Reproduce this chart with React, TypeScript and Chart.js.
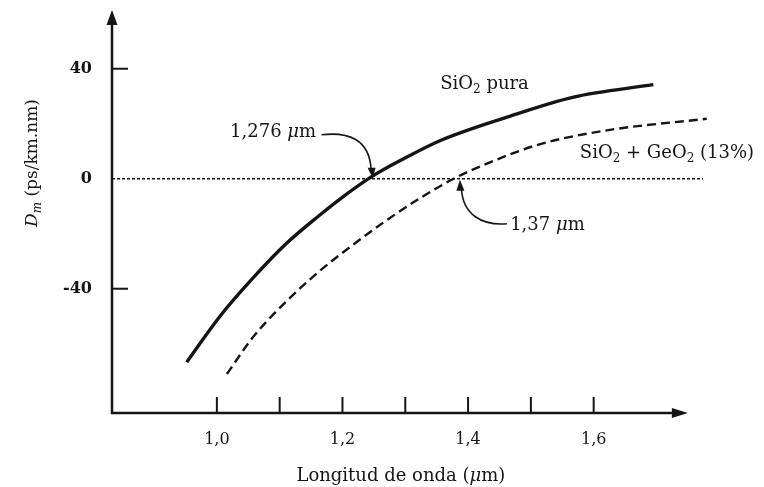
import React, { useEffect, useRef } from 'react';
import { Chart, registerables } from 'chart.js';

Chart.register(...registerables);

// ---- data ----
const sioPuraX = [0.952, 1.005, 1.058, 1.111, 1.164, 1.196, 1.244, 1.297, 1.356, 1.462, 1.568, 1.695];
const sioPuraY = [-66.7, -50.0, -36.0, -23.5, -13.2, -7.4, 0.4, 7.2, 13.9, 22.4, 29.7, 34.2];
const sioGeoX = [1.016, 1.058, 1.111, 1.164, 1.218, 1.271, 1.324, 1.377, 1.43, 1.515, 1.621, 1.78];
const sioGeoY = [-71.0, -57.5, -44.5, -33.5, -23.8, -15.0, -7.0, 0, 5.5, 12.6, 17.6, 21.8];
const zeroLineX = [0.833, 1.774];
const zeroLineY = [0, 0];
const xTickLabels = [1.0, 1.2, 1.4, 1.6];
const xTickMarks = [1.0, 1.1, 1.2, 1.3, 1.4, 1.5, 1.6];
const yTickLabels = [-40, 0, 40];
const yTickMarks = [-40, 40];
const zeroPuraCross = 1.248;
const zeroGeoCross = 1.387;

// ---- layout / style ----
const X_MIN = 0.833;
const X_MAX = 1.79;
const X_AXIS_END = 1.75;
const Y_MIN = -85.2;
const Y_MAX = 61;
const INK = '#151515';
const FONT = 'DejaVu Serif';

type Seg = { t: string; size: number; italic?: boolean; bold?: boolean; dy?: number };

function drawRich(ctx: CanvasRenderingContext2D, x: number, y: number, segs: Seg[], align: 'left' | 'center' = 'left') {
  const fontOf = (s: Seg) => `${s.italic ? 'italic ' : ''}${s.bold ? 'bold ' : ''}${s.size}px "${FONT}"`;
  let total = 0;
  for (const s of segs) {
    ctx.font = fontOf(s);
    total += ctx.measureText(s.t).width;
  }
  let cx = align === 'center' ? x - total / 2 : x;
  ctx.textAlign = 'left';
  ctx.textBaseline = 'alphabetic';
  for (const s of segs) {
    ctx.font = fontOf(s);
    ctx.fillText(s.t, cx, y + (s.dy || 0));
    cx += ctx.measureText(s.t).width;
  }
}

const decorPlugin = {
  id: 'decor',
  afterDatasetsDraw(chart: any) {
    const { ctx, chartArea } = chart;
    const xs = chart.scales.x;
    const ys = chart.scales.y;
    const ax = chartArea.left;
    const ay = ys.getPixelForValue(Y_MIN);
    ctx.save();
    ctx.strokeStyle = INK;
    ctx.fillStyle = INK;
    ctx.lineCap = 'butt';

    // y axis with arrow
    ctx.lineWidth = 2.5;
    const yTip = ys.getPixelForValue(Y_MAX) - 1;
    ctx.beginPath();
    ctx.moveTo(ax, ay + 1);
    ctx.lineTo(ax, yTip + 10);
    ctx.stroke();
    ctx.beginPath();
    ctx.moveTo(ax, yTip);
    ctx.lineTo(ax - 5.5, yTip + 15);
    ctx.lineTo(ax + 5.5, yTip + 15);
    ctx.closePath();
    ctx.fill();

    // x axis with arrow
    const xTip = xs.getPixelForValue(X_AXIS_END);
    ctx.beginPath();
    ctx.moveTo(ax - 1, ay);
    ctx.lineTo(xTip - 10, ay);
    ctx.stroke();
    ctx.beginPath();
    ctx.moveTo(xTip, ay);
    ctx.lineTo(xTip - 16, ay - 5);
    ctx.lineTo(xTip - 16, ay + 5);
    ctx.closePath();
    ctx.fill();

    // tick marks (inward)
    ctx.lineWidth = 2;
    for (const v of xTickMarks) {
      const px = xs.getPixelForValue(v);
      ctx.beginPath();
      ctx.moveTo(px, ay);
      ctx.lineTo(px, ay - 16);
      ctx.stroke();
    }
    for (const v of yTickMarks) {
      const py = ys.getPixelForValue(v);
      ctx.beginPath();
      ctx.moveTo(ax, py);
      ctx.lineTo(ax + 16, py);
      ctx.stroke();
    }

    // axis titles
    ctx.save();
    ctx.translate(ax - 75, ys.getPixelForValue(Y_MAX) + 152);
    ctx.rotate(-Math.PI / 2);
    drawRich(ctx, 0, 0, [
      { t: 'D', size: 17, italic: true },
      { t: 'm', size: 12, italic: true, dy: 4 },
      { t: ' (ps/km.nm)', size: 17 },
    ], 'center');
    ctx.restore();
    drawRich(ctx, xs.getPixelForValue(1.293), ay + 68, [
      { t: 'Longitud de onda (', size: 18 },
      { t: 'μ', size: 18, italic: true },
      { t: 'm)', size: 18 },
    ], 'center');

    // curve labels
    drawRich(ctx, xs.getPixelForValue(1.3556), ys.getPixelForValue(32.8), [
      { t: 'SiO', size: 18 },
      { t: '2', size: 12, dy: 4 },
      { t: ' pura', size: 18 },
    ]);
    drawRich(ctx, xs.getPixelForValue(1.578), ys.getPixelForValue(7.7), [
      { t: 'SiO', size: 18 },
      { t: '2', size: 12, dy: 4 },
      { t: ' + GeO', size: 18 },
      { t: '2', size: 12, dy: 4 },
      { t: ' (13%)', size: 18 },
    ]);

    // zero-crossing callouts
    drawRich(ctx, xs.getPixelForValue(1.021), ys.getPixelForValue(15.0), [
      { t: '1,276 ', size: 18 },
      { t: 'μ', size: 18, italic: true },
      { t: 'm', size: 18 },
    ]);
    drawRich(ctx, xs.getPixelForValue(1.467), ys.getPixelForValue(-18.8), [
      { t: '1,37 ', size: 18 },
      { t: 'μ', size: 18, italic: true },
      { t: 'm', size: 18 },
    ]);

    ctx.lineWidth = 1.6;
    // arrow 1 (pointing down to crossing of SiO2 pura)
    const t1x = xs.getPixelForValue(zeroPuraCross);
    const t1y = ys.getPixelForValue(0);
    ctx.beginPath();
    ctx.moveTo(t1x - 51, t1y - 44);
    ctx.bezierCurveTo(t1x - 25, t1y - 47, t1x - 3, t1y - 40, t1x - 1.5, t1y - 9);
    ctx.stroke();
    ctx.beginPath();
    ctx.moveTo(t1x, t1y - 0.5);
    ctx.lineTo(t1x - 5, t1y - 11);
    ctx.lineTo(t1x + 3, t1y - 11);
    ctx.closePath();
    ctx.fill();

    // arrow 2 (pointing up to crossing of SiO2 + GeO2)
    const t2x = xs.getPixelForValue(zeroGeoCross);
    const t2y = ys.getPixelForValue(0);
    ctx.beginPath();
    ctx.moveTo(t2x + 47, t2y + 45);
    ctx.bezierCurveTo(t2x + 22, t2y + 47, t2x + 3, t2y + 36, t2x + 1.5, t2y + 10);
    ctx.stroke();
    ctx.beginPath();
    ctx.moveTo(t2x, t2y + 1);
    ctx.lineTo(t2x - 3.5, t2y + 12);
    ctx.lineTo(t2x + 4.5, t2y + 12);
    ctx.closePath();
    ctx.fill();

    ctx.restore();
  },
};

const toPts = (xs: number[], ys: number[]) => xs.map((x, i) => ({ x, y: ys[i] }));

export default function App() {
  const ref = useRef<HTMLCanvasElement | null>(null);

  useEffect(() => {
    if (!ref.current) return;
    const chart = new Chart(ref.current, {
      type: 'line',
      data: {
        datasets: [
          {
            label: 'Cero',
            data: toPts(zeroLineX, zeroLineY),
            borderColor: INK,
            borderWidth: 1.4,
            borderDash: [3, 2],
            pointRadius: 0,
            tension: 0,
          },
          {
            label: 'SiO₂ pura',
            data: toPts(sioPuraX, sioPuraY),
            borderColor: INK,
            borderWidth: 3.4,
            pointRadius: 0,
            cubicInterpolationMode: 'monotone',
          },
          {
            label: 'SiO₂ + GeO₂ (13%)',
            data: toPts(sioGeoX, sioGeoY),
            borderColor: INK,
            borderWidth: 2.4,
            borderDash: [9, 5],
            pointRadius: 0,
            cubicInterpolationMode: 'monotone',
          },
        ],
      },
      options: {
        responsive: false,
        animation: false,
        parsing: true,
        layout: { padding: { left: 0, top: 11, right: 51, bottom: 0 } },
        plugins: {
          legend: { display: false },
          tooltip: { enabled: false },
          title: { display: false },
        },
        scales: {
          x: {
            type: 'linear',
            min: X_MIN,
            max: X_MAX,
            afterBuildTicks: (s: any) => {
              s.ticks = xTickLabels.map((v) => ({ value: v }));
            },
            afterFit: (s: any) => {
              s.height = 74;
              s.paddingLeft = 0;
              s.paddingRight = 0;
            },
            grid: { display: false, drawTicks: false },
            border: { display: false },
            ticks: {
              autoSkip: false,
              maxRotation: 0,
              padding: 17,
              color: INK,
              font: { family: FONT, size: 16 },
              callback: (v: any) => Number(v).toFixed(1).replace('.', ','),
            },
          },
          y: {
            type: 'linear',
            min: Y_MIN,
            max: Y_MAX,
            afterBuildTicks: (s: any) => {
              s.ticks = yTickLabels.map((v) => ({ value: v }));
            },
            afterFit: (s: any) => {
              s.width = 112;
              s.paddingTop = 0;
              s.paddingBottom = 0;
            },
            grid: { display: false, drawTicks: false },
            border: { display: false },
            ticks: {
              autoSkip: false,
              padding: 20,
              color: INK,
              font: { family: FONT, size: 16, weight: 'bold' },
              callback: (v: any) => String(v),
            },
          },
        },
      },
      plugins: [decorPlugin],
    } as any);
    return () => chart.destroy();
  }, []);

  return (
    <div style={{ position: 'fixed', left: 0, top: 0, width: 764, height: 487, background: '#ffffff' }}>
      <canvas ref={ref} width={764} height={487} style={{ display: 'block', width: 764, height: 487 }} />
    </div>
  );
}
